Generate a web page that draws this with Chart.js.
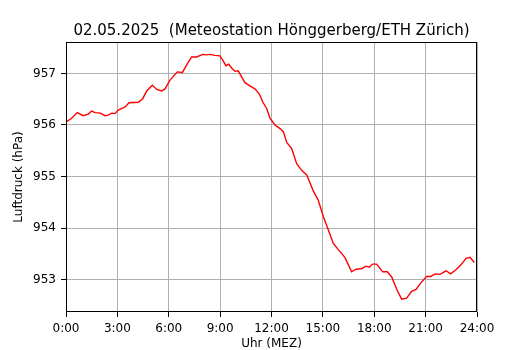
<!DOCTYPE html>
<html>
<head>
<meta charset="utf-8">
<script src="https://cdn.jsdelivr.net/npm/chart.js@4/dist/chart.umd.min.js"></script>
<style>
  html, body { margin: 0; padding: 0; background: #fff; }
  #wrap { width: 530px; height: 350px; }
</style>
</head>
<body>
<div id="wrap"><canvas id="chart" width="530" height="350"></canvas></div>
<script>
// hours since midnight
const hours = [0.0, 0.3, 0.66, 1.0, 1.3, 1.5, 1.7, 2.0, 2.28, 2.47, 2.67, 2.86, 3.05, 3.45, 3.68,
    4.22, 4.48, 4.71, 5.04, 5.3, 5.59, 5.78, 6.07, 6.5, 6.8, 7.12, 7.34, 7.63, 7.98, 8.21, 8.41,
    8.7, 8.99, 9.15, 9.34, 9.5, 9.68, 9.87, 10.06, 10.26, 10.45, 10.74, 11.03, 11.29, 11.48, 11.72,
    11.91, 12.2, 12.5, 12.69, 12.89, 13.18, 13.47, 13.76, 14.06, 14.44, 14.73, 15.03, 15.32, 15.61,
    15.9, 16.19, 16.3, 16.68, 16.94, 17.26, 17.52, 17.71, 17.9, 18.14, 18.49, 18.76, 19.02, 19.31,
    19.6, 19.89, 20.18, 20.44, 20.71, 21.06, 21.3, 21.55, 21.84, 22.19, 22.46, 22.77, 23.1, 23.36,
    23.59, 23.84];
// Luftdruck in hPa
const pressure = [956.06, 956.12, 956.24, 956.18, 956.21, 956.27, 956.24, 956.23, 956.18, 956.19,
    956.23, 956.22, 956.29, 956.35, 956.43, 956.44, 956.51, 956.66, 956.77, 956.69, 956.66, 956.70,
    956.87, 957.03, 957.02, 957.21, 957.32, 957.32, 957.37, 957.36, 957.37, 957.35, 957.34, 957.26,
    957.15, 957.18, 957.10, 957.04, 957.05, 956.93, 956.82, 956.76, 956.70, 956.60, 956.45, 956.32,
    956.13, 956.00, 955.93, 955.87, 955.66, 955.54, 955.25, 955.12, 955.03, 954.72, 954.54, 954.22,
    953.96, 953.70, 953.58, 953.47, 953.42, 953.15, 953.20, 953.21, 953.26, 953.24, 953.30, 953.30,
    953.15, 953.15, 953.05, 952.81, 952.62, 952.64, 952.77, 952.81, 952.93, 953.06, 953.06, 953.11,
    953.10, 953.17, 953.11, 953.19, 953.30, 953.41, 953.43, 953.33];

const xTicks = [0, 3, 6, 9, 12, 15, 18, 21, 24];
const yTicks = [953, 954, 955, 956, 957];

const font = "'DejaVu Sans', sans-serif";

// black box round the plot, like the matplotlib spines
const frame = {
    id: 'frame',
    afterDraw(chart) {
        const {ctx, chartArea: a} = chart;
        ctx.save();
        ctx.strokeStyle = '#000';
        ctx.lineWidth = 1;
        ctx.strokeRect(Math.round(a.left) + 0.5, Math.round(a.top) + 0.5,
            Math.round(a.right - a.left) - 1, Math.round(a.bottom - a.top) - 1);
        ctx.restore();
    }
};

const ctx = document.getElementById('chart').getContext('2d');
const myChart = new Chart(ctx, {
    type: 'line',
    data: {
        datasets: [{
            data: hours.map((h, i) => ({x: h, y: pressure[i]})),
            borderColor: '#ff0000',
            borderWidth: 1.4,
            pointRadius: 0,
            tension: 0,
            fill: false
        }]
    },
    options: {
        responsive: false,
        animation: false,
        layout: { padding: { left: 0, right: 53, top: 0, bottom: 0 } },
        plugins: {
            legend: { display: false },
            tooltip: { enabled: false },
            title: {
                display: true,
                fullSize: false,
                text: '02.05.2025  (Meteostation Hönggerberg/ETH Zürich)',
                color: '#000',
                font: { family: font, size: 15, weight: 'normal', lineHeight: 1.2 },
                padding: { top: 22, bottom: 2 }
            }
        },
        scales: {
            x: {
                type: 'linear',
                min: 0,
                max: 24,
                afterBuildTicks: s => { s.ticks = xTicks.map(v => ({value: v})); },
                afterFit: s => { s.height = 38; },
                ticks: {
                    color: '#000',
                    font: { family: font, size: 12 },
                    padding: 5,
                    maxRotation: 0,
                    callback: v => v + ':00'
                },
                grid: { color: '#b0b0b0', lineWidth: 1, tickColor: '#000', tickLength: 5 },
                border: { display: false },
                title: {
                    display: true,
                    text: 'Uhr (MEZ)',
                    color: '#000',
                    font: { family: font, size: 12, lineHeight: 1 },
                    padding: { top: 0, bottom: 0 }
                }
            },
            y: {
                min: 952.37,
                max: 957.61,
                afterBuildTicks: s => { s.ticks = yTicks.map(v => ({value: v})); },
                afterFit: s => { s.width = 66; },
                ticks: {
                    color: '#000',
                    font: { family: font, size: 12 },
                    padding: 5,
                    callback: v => String(v)
                },
                grid: { color: '#b0b0b0', lineWidth: 1, tickColor: '#000', tickLength: 5 },
                border: { display: false },
                title: {
                    display: true,
                    text: 'Luftdruck (hPa)',
                    color: '#000',
                    font: { family: font, size: 12, lineHeight: 1 },
                    padding: { top: 13, bottom: 0 }
                }
            }
        }
    },
    plugins: [frame]
});
</script>
</body>
</html>
